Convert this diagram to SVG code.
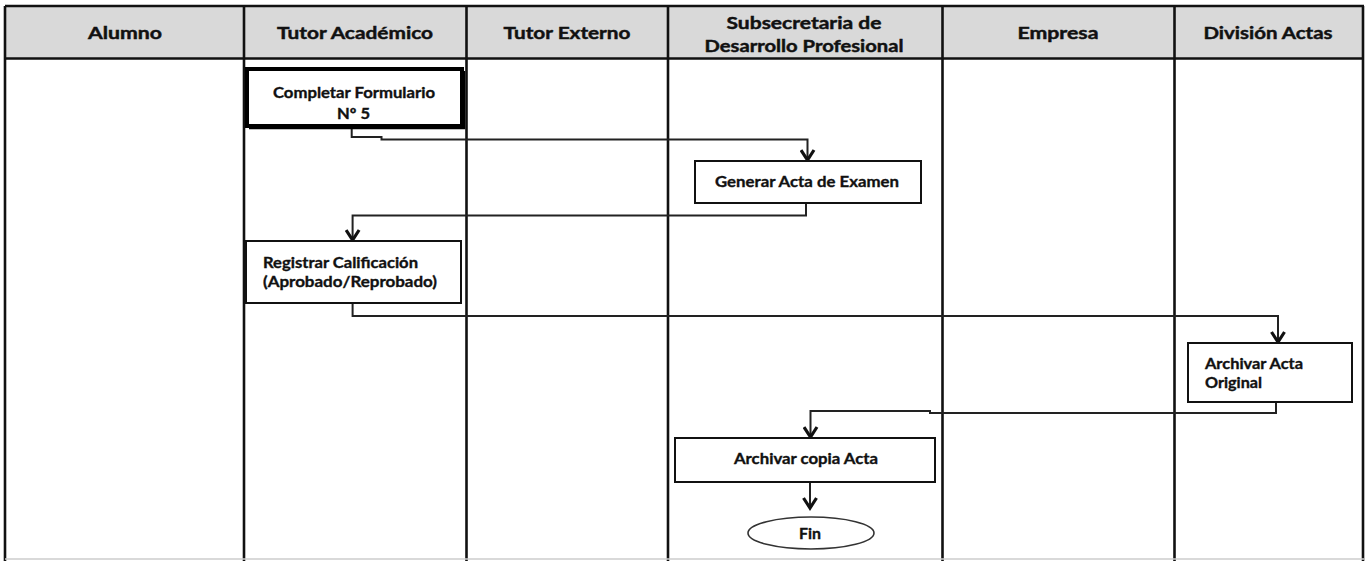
<svg xmlns="http://www.w3.org/2000/svg" width="1368" height="561" viewBox="0 0 1368 561">
<style>
.hd{font-family:Lato,"Open Sans","Liberation Sans",sans-serif;font-weight:bold;font-size:17px;fill:#111;stroke:#111;stroke-width:0.45;}
.tx{font-family:Lato,"Open Sans","Liberation Sans",sans-serif;font-weight:bold;font-size:15px;fill:#111;stroke:#111;stroke-width:0.35;}
.box{fill:#fff;stroke:#111;stroke-width:2;}
.lane{stroke:#111;stroke-width:2.6;fill:none;}
.con{stroke:#222;stroke-width:2;fill:none;marker-end:url(#arr);}
</style>
<defs>
<marker id="arr" markerUnits="userSpaceOnUse" viewBox="0 0 14 16" markerWidth="14" markerHeight="16" refX="11" refY="8" orient="auto">
<path d="M1,1.5 L11,8 L1,14.5" fill="none" stroke="#111" stroke-width="3.2"/>
</marker>
</defs>
<rect width="1368" height="561" fill="#fff"/>
<g id="lanes">
<rect x="5" y="6" width="1359" height="53" fill="#d9d9d9"/>
<line x1="5" y1="6" x2="1364" y2="6" class="lane"/>
<line x1="5" y1="58.5" x2="1364" y2="58.5" class="lane" stroke-width="3"/>
<line x1="5" y1="6" x2="5" y2="561" class="lane"/>
<line x1="244" y1="6" x2="244" y2="561" class="lane" stroke-width="3.2"/>
<line x1="466.5" y1="6" x2="466.5" y2="561" class="lane"/>
<line x1="668" y1="6" x2="668" y2="561" class="lane" stroke-width="3"/>
<line x1="942.5" y1="6" x2="942.5" y2="561" class="lane" stroke-width="2.2"/>
<line x1="1174.5" y1="6" x2="1174.5" y2="561" class="lane" stroke-width="3"/>
<line x1="1363" y1="6" x2="1363" y2="561" class="lane" stroke-width="2.2"/>
<line x1="5" y1="559" x2="1364" y2="559" stroke="#ccc" stroke-width="1.5"/>
<text class="hd" x="125" y="39" text-anchor="middle" textLength="74" lengthAdjust="spacingAndGlyphs">Alumno</text>
<text class="hd" x="355" y="39" text-anchor="middle" textLength="156" lengthAdjust="spacingAndGlyphs">Tutor Académico</text>
<text class="hd" x="567" y="39" text-anchor="middle" textLength="127" lengthAdjust="spacingAndGlyphs">Tutor Externo</text>
<text class="hd" x="804" y="29" text-anchor="middle" textLength="155" lengthAdjust="spacingAndGlyphs">Subsecretaria de</text>
<text class="hd" x="804" y="52" text-anchor="middle" textLength="199" lengthAdjust="spacingAndGlyphs">Desarrollo Profesional</text>
<text class="hd" x="1058" y="39" text-anchor="middle" textLength="81" lengthAdjust="spacingAndGlyphs">Empresa</text>
<text class="hd" x="1268" y="39" text-anchor="middle" textLength="129" lengthAdjust="spacingAndGlyphs">División Actas</text>
</g>
<g id="connectors">
<path class="con" d="M351.7,126 V137 H381.5 V139.5 H807.5 V160"/>
<path class="con" d="M806,203 V215.5 H352.6 V240"/>
<path class="con" d="M352.6,303 V316 H1278 V342"/>
<path class="con" d="M1276,402 V413 H930 V411 H810.5 V437"/>
<path class="con" d="M810,482 V508"/>
</g>
<g id="n_completar">
<rect x="247" y="69" width="215" height="57" fill="#fff" stroke="#000" stroke-width="4"/>
<path d="M464,71 V128 H249" fill="none" stroke="#000" stroke-width="2.5"/>
<text class="tx" x="354" y="98" text-anchor="middle" textLength="162" lengthAdjust="spacingAndGlyphs">Completar Formulario</text>
<text class="tx" x="353.5" y="119" text-anchor="middle" textLength="33" lengthAdjust="spacingAndGlyphs">Nº 5</text>
</g>
<g id="n_generar">
<rect class="box" x="695" y="161" width="226" height="42"/>
<text class="tx" x="807" y="187" text-anchor="middle" textLength="184" lengthAdjust="spacingAndGlyphs">Generar Acta de Examen</text>
</g>
<g id="n_registrar">
<rect class="box" x="246" y="241" width="215" height="62"/>
<text class="tx" x="263" y="268" textLength="155" lengthAdjust="spacingAndGlyphs">Registrar Calificación</text>
<text class="tx" x="263" y="287" textLength="174" lengthAdjust="spacingAndGlyphs">(Aprobado/Reprobado)</text>
</g>
<g id="n_archivar_original">
<rect class="box" x="1188" y="343" width="164" height="59"/>
<text class="tx" x="1205" y="369" textLength="98" lengthAdjust="spacingAndGlyphs">Archivar Acta</text>
<text class="tx" x="1205" y="388" textLength="57" lengthAdjust="spacingAndGlyphs">Original</text>
</g>
<g id="n_archivar_copia">
<rect class="box" x="675" y="438" width="260" height="44"/>
<text class="tx" x="806" y="464" text-anchor="middle" textLength="144" lengthAdjust="spacingAndGlyphs">Archivar copia Acta</text>
</g>
<g id="n_fin">
<ellipse cx="811" cy="533" rx="63" ry="16" fill="#fff" stroke="#333" stroke-width="1.6"/>
<text class="tx" x="810" y="539" text-anchor="middle" textLength="22" lengthAdjust="spacingAndGlyphs">Fin</text>
</g>
</svg>
